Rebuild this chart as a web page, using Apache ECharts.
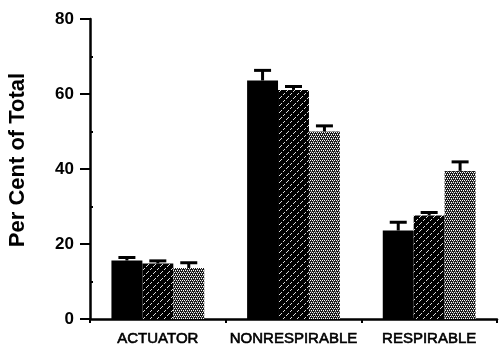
<!DOCTYPE html>
<html>
<head>
<meta charset="utf-8">
<script src="https://cdn.jsdelivr.net/npm/echarts@6/dist/echarts.min.js"></script>
<style>html,body{margin:0;padding:0;background:#fff;}#c{width:500px;height:347px;}</style>
</head>
<body>
<div id="c"></div>
<script>
const categories = ['ACTUATOR', 'NONRESPIRABLE', 'RESPIRABLE'];
const yTicks = [0, 20, 40, 60, 80];
const seriesA = [15.6, 63.6, 23.6];      // solid black
const seriesAErr = [16.4, 66.3, 25.8];   // top of error bar
const seriesB = [14.8, 61.1, 27.6];      // hatched
const seriesBErr = [15.5, 62.0, 28.4];
const seriesC = [13.6, 50.0, 39.5];      // dotted
const seriesCErr = [15.0, 51.5, 41.9];
const yTitle = 'Per Cent of Total';

function makeHatch() {
  const n = 7;
  const c = document.createElement('canvas');
  c.width = n; c.height = n;
  const g = c.getContext('2d');
  g.fillStyle = '#000'; g.fillRect(0, 0, n, n);
  g.fillStyle = '#ddd';
  for (let i = 0; i < n; i++) { if (i % 3 !== 2) g.fillRect(i, n - 1 - i, 1, 1); }
  return c;
}
function makeDots() {
  const c = document.createElement('canvas');
  c.width = 4; c.height = 4;
  const g = c.getContext('2d');
  g.fillStyle = '#1a1a1a'; g.fillRect(0, 0, 4, 4);
  g.fillStyle = '#fff';
  g.fillRect(0, 0, 1, 1); g.fillRect(2, 0, 1, 1); g.fillRect(1, 2, 1, 1); g.fillRect(3, 2, 1, 1);
  g.fillStyle = '#888';
  g.fillRect(1, 1, 1, 1); g.fillRect(3, 3, 1, 1);
  return c;
}

const BARW = 0.228;
const means = [seriesA, seriesB, seriesC];
const errs = [seriesAErr, seriesBErr, seriesCErr];
const errData = [];
for (let s = 0; s < 3; s++) {
  for (let i = 0; i < categories.length; i++) {
    errData.push([i, means[s][i], errs[s][i], s]);
  }
}

const chart = echarts.init(document.getElementById('c'), null, {renderer: 'canvas'});
chart.setOption({
  animation: false,
  backgroundColor: '#fff',
  grid: {left: 90, right: 3, top: 19, bottom: 28, containLabel: false},
  graphic: [{
    type: 'text', x: 18, y: 160, rotation: Math.PI / 2,
    style: {text: yTitle, fill: '#000', font: 'bold 22px "Liberation Sans"', textAlign: 'center', textVerticalAlign: 'middle'}
  }],
  xAxis: {
    type: 'category',
    data: categories,
    axisLine: {lineStyle: {color: '#000', width: 2.5}},
    axisTick: {show: true, alignWithLabel: false, length: 4, lineStyle: {color: '#000', width: 2}},
    axisLabel: {interval: 0, color: '#000', fontFamily: 'Liberation Sans', fontSize: 15, margin: 12,
      textBorderColor: '#000', textBorderWidth: 0.6}
  },
  yAxis: {
    type: 'value',
    min: 0, max: 80, interval: 20,
    axisLine: {show: true, lineStyle: {color: '#000', width: 2.5}},
    axisTick: {show: true, length: 10, lineStyle: {color: '#000', width: 2}},
    minorTick: {show: true, splitNumber: 2, length: -3, lineStyle: {color: '#000', width: 2}},
    splitLine: {show: false},
    axisLabel: {color: '#000', fontFamily: 'Liberation Sans', fontWeight: 'bold', fontSize: 17, margin: 16,
      formatter: v => yTicks.indexOf(v) >= 0 ? String(v) : ''}
  },
  series: [
    {type: 'bar', data: seriesA, barWidth: (BARW * 100) + '%', barGap: '0%', itemStyle: {color: '#000'}},
    {type: 'bar', data: seriesB, barWidth: (BARW * 100) + '%', barGap: '0%', itemStyle: {color: {image: makeHatch(), repeat: 'repeat'}}},
    {type: 'bar', data: seriesC, barWidth: (BARW * 100) + '%', barGap: '0%', itemStyle: {color: {image: makeDots(), repeat: 'repeat'}}},
    {
      type: 'custom',
      data: errData,
      z: 5,
      renderItem: function (params, api) {
        const cat = api.value(0), lo = api.value(1), hi = api.value(2), s = api.value(3);
        const band = api.size([1, 0])[0];
        const pLo = api.coord([cat, lo]);
        const pHi = api.coord([cat, hi]);
        const x = pLo[0] + (s - 1) * BARW * band;
        const capW = 17;
        return {
          type: 'group',
          children: [
            {type: 'line', shape: {x1: x, y1: pLo[1], x2: x, y2: pHi[1]}, style: {stroke: '#000', lineWidth: 3}},
            {type: 'line', shape: {x1: x - capW / 2, y1: pHi[1], x2: x + capW / 2, y2: pHi[1]}, style: {stroke: '#000', lineWidth: 3}}
          ]
        };
      }
    }
  ]
});
</script>
</body>
</html>
